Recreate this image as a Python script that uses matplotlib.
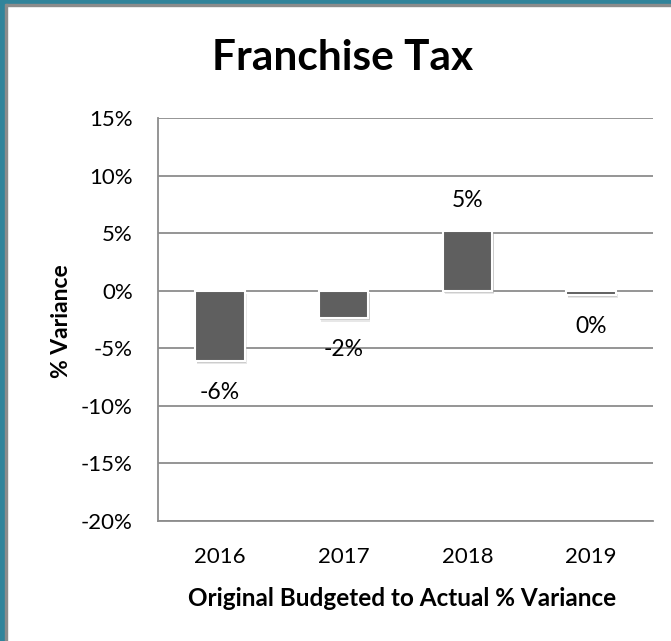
import matplotlib.pyplot as plt
from matplotlib.patches import Rectangle
import matplotlib.patheffects as pe

years = ["2016", "2017", "2018", "2019"]
variance = [-6.1, -2.4, 5.2, -0.37]
labels = ["-6%", "-2%", "5%", "0%"]
y_ticks = [15, 10, 5, 0, -5, -10, -15, -20]

plt.rcParams['font.family'] = ['Lato', 'DejaVu Sans']

fig = plt.figure(figsize=(6.71, 6.41), dpi=100)
W, H = 671, 641

# teal frame on top and left, with a thin grey inner line
fig.patches.append(Rectangle((0, 1 - 4 / H), 1, 4 / H, transform=fig.transFigure,
                             color='#31849B', zorder=0))
fig.patches.append(Rectangle((0, 1 - 6 / H), 1, 2 / H, transform=fig.transFigure,
                             color='#8C8C8C', zorder=0))
fig.patches.append(Rectangle((0, 0), 5 / W, 1, transform=fig.transFigure,
                             color='#31849B', zorder=0))
fig.patches.append(Rectangle((5 / W, 0), 2 / W, 1 - 4 / H, transform=fig.transFigure,
                             color='#8C8C8C', zorder=0))

ax = fig.add_axes([158 / W, 1 - 521 / H, (653 - 158) / W, (521 - 118) / H])

x = range(len(years))
bars = ax.bar(x, variance, width=0.40, color='#5F5F5F', edgecolor='white',
              linewidth=1.5, zorder=3)
for b in bars:
    b.set_path_effects([
        pe.SimplePatchShadow(offset=(1.5, -2.5), shadow_rgbFace='#BBBBBB', alpha=0.35),
        pe.SimplePatchShadow(offset=(1, -1.5), shadow_rgbFace='#999999', alpha=0.35),
        pe.Normal()])

for xi, v, lab in zip(x, variance, labels):
    if v >= 0:
        ax.annotate(lab, (xi, v), xytext=(0, 20), textcoords='offset pixels',
                    ha='center', va='bottom', fontsize=16.5)
    else:
        ax.annotate(lab, (xi, v), xytext=(0, -21), textcoords='offset pixels',
                    ha='center', va='top', fontsize=16.5)

ax.set_ylim(-20, 15)
ax.set_xlim(-0.5, 3.5)
ax.set_yticks(y_ticks)
ax.set_yticklabels([f"{t}%" for t in y_ticks], fontsize=16)
ax.set_xticks(list(x))
ax.set_xticklabels(years, fontsize=16)
ax.tick_params(axis='y', length=0, pad=18)
ax.tick_params(axis='x', length=0, pad=19)

ax.grid(axis='y', color='#8C8C8C', linewidth=1.3, zorder=0)
for s in ['top', 'right']:
    ax.spines[s].set_visible(False)
for s in ['left', 'bottom']:
    ax.spines[s].set_color('#8C8C8C')
    ax.spines[s].set_linewidth(1.3)

fig.text(343 / W, 1 - 70 / H, 'Franchise Tax', fontsize=30.5, fontweight='bold',
         ha='center', va='baseline')
fig.text(402 / W, 1 - 606 / H, 'Original Budgeted to Actual % Variance',
         fontsize=17.5, fontweight='bold', ha='center', va='baseline')
fig.text(62 / W, 1 - 321 / H, '% Variance', fontsize=16.5, fontweight='bold',
         rotation=90, ha='center', va='center')

fig.savefig('out.png', dpi=100, facecolor='white')
